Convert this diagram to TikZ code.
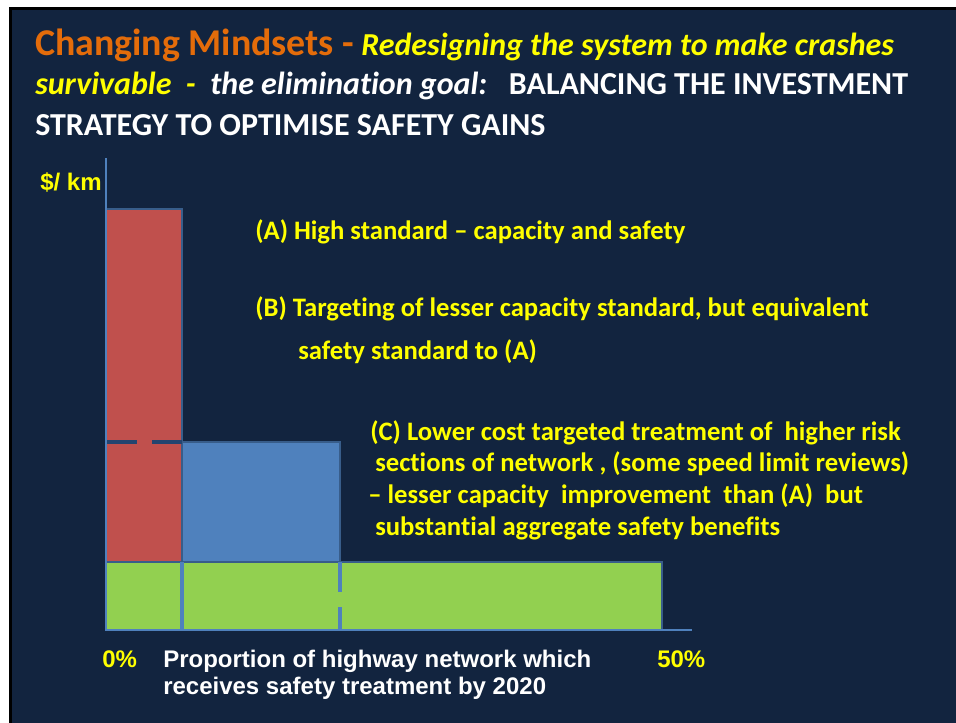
\documentclass[tikz,border=0pt]{standalone}
\usepackage{fontspec}
\setmainfont{Carlito}[Ligatures=NoCommon]
\newfontfamily\arialfont{Liberation Sans}
\usepackage{tikz}
\usetikzlibrary{positioning}

\definecolor{slidebg}{HTML}{12243F}
\definecolor{titleorange}{HTML}{E46C0A}
\definecolor{noteyellow}{HTML}{FFFF00}
\definecolor{barred}{HTML}{C0504D}
\definecolor{barblue}{HTML}{4F81BD}
\definecolor{bargreen}{HTML}{92D050}
\definecolor{barline}{HTML}{385D8A}
\definecolor{splitline}{HTML}{24446F}
\definecolor{axisblue}{HTML}{4F81BD}

\begin{document}
\begin{tikzpicture}[
    x=0.75pt, y=-0.75pt,
    bar/.style={draw=barline, line width=1.4pt},
    axis/.style={draw=axisblue, line width=2.2pt},
    title/.style={anchor=base west, inner sep=0pt, text=white, font=\bfseries\fontsize{24}{28}\selectfont},
    note/.style={anchor=base west, inner sep=0pt, text=noteyellow, font=\bfseries\fontsize{20}{24}\selectfont},
    axlabel/.style={anchor=base west, inner sep=0pt, font=\arialfont\bfseries\fontsize{18}{21}\selectfont}
]

% slide frame
\fill[white] (0,0) rectangle (956,723);
\fill[black] (9,7) rectangle (956,723);
\fill[slidebg] (12,10) rectangle (956,723);
\useasboundingbox (0,0) rectangle (956,723);

% title
\node[title] (t1) at (35,56)
    {\textcolor{titleorange}{\fontsize{28.4}{32}\selectfont Changing Mindsets -} \textcolor{noteyellow}{\itshape Redesigning the system to make crashes}};
\node[title] (t2) at (35,95)
    {\textcolor{noteyellow}{\itshape survivable\ \ -}\ \ {\itshape the elimination goal:}\ \ \ BALANCING THE INVESTMENT};
\node[title] (t3) at (35,136) {STRATEGY TO OPTIMISE SAFETY GAINS};

% bars
\filldraw[bar, fill=barred] (106,209) rectangle (182,562);
\filldraw[bar, fill=barblue] (182,442) rectangle (340,562);
\filldraw[bar, fill=bargreen] (106,562) rectangle (662,630);
\draw[splitline, line width=2.4pt] (106,442) -- (137,442) (152,442) -- (182,442);
\draw[axisblue, line width=2.4pt] (182,562) -- (182,630);
\draw[axisblue, line width=2.4pt] (340,562) -- (340,592) (340,607) -- (340,630);

% axes
\coordinate (ytop) at (106,158);
\coordinate (orig) at (106,630);
\coordinate (xend) at (692,630);
\draw[axis] (ytop) -- (orig) -- (xend);

% axis labels
\node[axlabel, text=noteyellow] (ylab) at (40,191) {\$/ km};
\node[axlabel, text=noteyellow] (x0) at (102,667) {0\%};
\node[axlabel, text=noteyellow] (x50) at (657,667) {50\%};
\node[axlabel, text=white] (xlab1) at (163,667) {Proportion of highway network which};
\node[axlabel, text=white] (xlab2) at (163,694) {receives safety treatment by 2020};

% notes
\node[note] (na) at (255,240) {(A) High standard -- capacity and safety};
\node[note] (nb1) at (255,317) {(B) Targeting of lesser capacity standard, but equivalent};
\node[note] (nb2) at (298,359) {safety standard to (A)};
\node[note] (nc1) at (370,440) {(C) Lower cost targeted treatment of\ \ higher risk};
\node[note] (nc2) at (375,471) {sections of network , (some speed limit reviews)};
\node[note] (nc3) at (368,503) {-- lesser capacity\ \ improvement\ \ than (A)\ \ but};
\node[note] (nc4) at (375,535) {substantial aggregate safety benefits};

\end{tikzpicture}
\end{document}
